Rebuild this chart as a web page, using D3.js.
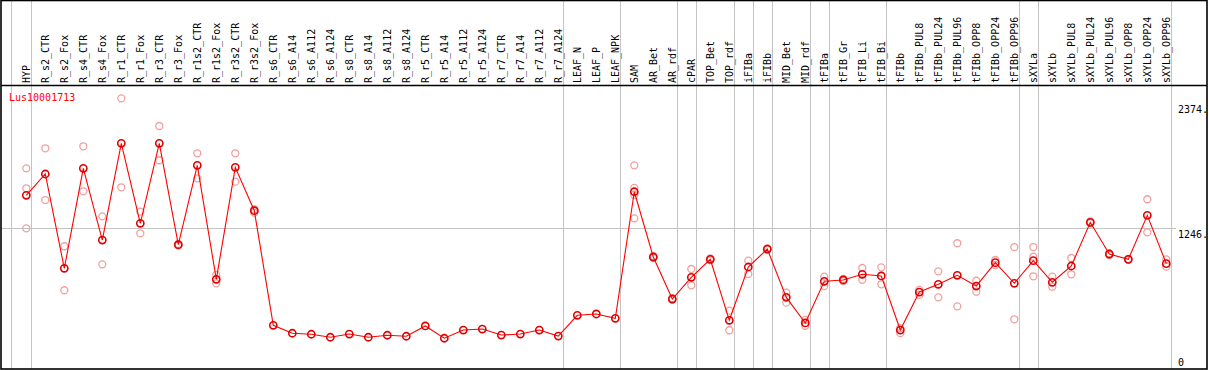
<!DOCTYPE html>
<html><head><meta charset="utf-8">
<script src="https://cdn.jsdelivr.net/npm/d3@7"></script>
<style>
html,body{margin:0;padding:0;background:#fff;}
svg{display:block;}
text{font-family:"DejaVu Sans Mono",monospace;font-size:10px;}
</style></head>
<body>
<svg id="chart" width="1209" height="370"></svg>
<script>
const geneName = "Lus10001713";
const categories = ["HYP","R_s2_CTR","R_s2_Fox","R_s4_CTR","R_s4_Fox","R_r1_CTR","R_r1_Fox","R_r3_CTR","R_r3_Fox","R_r1s2_CTR","R_r1s2_Fox","R_r3s2_CTR","R_r3s2_Fox","R_s6_CTR","R_s6_A14","R_s6_A112","R_s6_A124","R_s8_CTR","R_s8_A14","R_s8_A112","R_s8_A124","R_r5_CTR","R_r5_A14","R_r5_A112","R_r5_A124","R_r7_CTR","R_r7_A14","R_r7_A112","R_r7_A124","LEAF_N","LEAF_P","LEAF_NPK","SAM","AR_Bet","AR_rdf","cPAR","TOP_Bet","TOP_rdf","iFIBa","iFIBb","MID_Bet","MID_rdf","tFIBa","tFIB_Gr","tFIB_Li","tFIB_Bi","tFIBb","tFIBb_PUL8","tFIBb_PUL24","tFIBb_PUL96","tFIBb_OPP8","tFIBb_OPP24","tFIBb_OPP96","sXYLa","sXYLb","sXYLb_PUL8","sXYLb_PUL24","sXYLb_PUL96","sXYLb_OPP8","sXYLb_OPP24","sXYLb_OPP96"];
const meanValues = [1544,1736,885,1787,1140,2013,1291,2013,1098,1814,786,1796,1405,371,299,290,263,292,263,281,272,365,254,328,337,283,292,328,274,461,473,434,1576,987,608,804,966,416,897,1059,623,392,768,780,831,816,328,671,741,822,725,936,750,954,759,906,1300,1014,966,1363,927];
const replicateValues = [
 [1787,1607,1246],[1968,1501],[1084,687],[1986,1580],[1354,921],[2419,1616],[1396,1201],[2169,1860],[1105,1091],[1923,1697],[825,750],[1923,1667],[1418,1387],
 [],[],[],[],[],[],[],[],[],[],[],[],[],[],[],[],[],[],[],
 [1814,1610,1547,1336],[995,980],[615,600],[879,732],[975,957],[503,326],[954,834],[1065,1053],[665,575],[367,419],[810,725],[790,770],[888,782],[894,741],
 [345,300],[690,645],[858,623],[1111,542],[773,674],[960,915],[1077,425],[1077,990,813],[810,719],[978,831],[1308,1292],[1020,1005],[970,962],[1508,1210],[966,900]
];
const groupEnds = ["HYP","R_r7_A124","LEAF_NPK","AR_rdf","cPAR","TOP_rdf","iFIBa","iFIBb","MID_rdf","tFIBa","tFIB_Bi","tFIBb_OPP96","sXYLa","sXYLb_OPP96"];
const tickValues = [0,1246,2374];
const tickLabels = ["0","1246.","2374."];

const svg = d3.select("#chart");
const x = d3.scalePoint().domain(categories).range([26.3,1166.3]);
const y = d3.scaleLinear().domain([0,2374]).range([366.4,103.3]);

// vertical group separators
const sepX = [x("HYP")-15].concat(groupEnds.map(c=>x(c)+4.4));
svg.append("g").selectAll("line").data(sepX).join("line")
  .attr("x1",d=>Math.round(d)+0.5).attr("x2",d=>Math.round(d)+0.5)
  .attr("y1",0).attr("y2",369).attr("stroke","#c4c4c4").attr("stroke-width",1);

// horizontal grid at middle tick
svg.append("line").attr("x1",1).attr("x2",1176)
  .attr("y1",Math.round(y(1246))+0.5).attr("y2",Math.round(y(1246))+0.5)
  .attr("stroke","#c4c4c4").attr("stroke-width",1);

// frame
svg.append("rect").attr("x",1).attr("y",0.5).attr("width",1206).attr("height",368.5)
  .attr("fill","none").attr("stroke","#000").attr("stroke-width",1.6);
svg.append("line").attr("x1",1).attr("x2",1207).attr("y1",85.5).attr("y2",85.5)
  .attr("stroke","#000").attr("stroke-width",1.4);

// header labels
svg.append("g").selectAll("text").data(categories).join("text")
  .attr("transform",d=>`translate(${x(d)+4},83) rotate(-90)`)
  .attr("text-anchor","start").attr("fill","#000").text(d=>d);

// y axis labels
const axis = d3.axisRight(y).tickValues(tickValues).tickSize(0)
  .tickFormat((d,i)=>tickLabels[i]);
const ag = svg.append("g").attr("transform","translate(1178,0)").call(axis);
ag.select(".domain").remove();
ag.selectAll("text").attr("x",0).attr("fill","#000")
  .style("font-family","'DejaVu Sans Mono',monospace").style("font-size","10px")
  .attr("dy",d=>d===0?"-0.05em":"0.95em");

// gene name
svg.append("text").attr("x",9).attr("y",101).attr("fill","#ff0000").text(geneName);

// replicates
const reps = [];
replicateValues.forEach((arr,i)=>arr.forEach(v=>reps.push({c:categories[i],v})));
svg.append("g").selectAll("circle").data(reps).join("circle")
  .attr("cx",d=>x(d.c)).attr("cy",d=>y(d.v)).attr("r",3.5)
  .attr("fill","none").attr("stroke","#f0a0a0").attr("stroke-width",1.3);

// mean line
const line = d3.line().x((d,i)=>x(categories[i])).y(d=>y(d));
svg.append("path").datum(meanValues).attr("d",line)
  .attr("fill","none").attr("stroke","#ff0000").attr("stroke-width",1.1);

// mean markers
svg.append("g").selectAll("circle").data(meanValues).join("circle")
  .attr("cx",(d,i)=>x(categories[i])).attr("cy",d=>y(d)).attr("r",3.6)
  .attr("fill","none").attr("stroke","#e00000").attr("stroke-width",1.6);
</script>
</body></html>
